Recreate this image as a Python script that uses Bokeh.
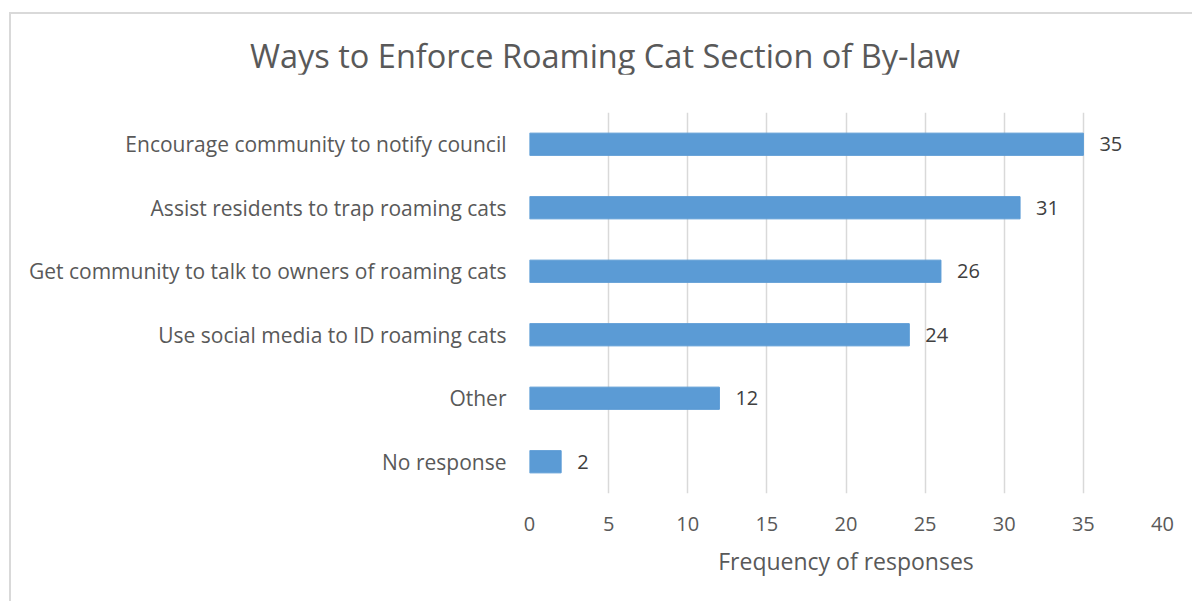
from bokeh.plotting import figure
from bokeh.models import ColumnDataSource, FixedTicker, Div
from bokeh.layouts import column
from bokeh.core.properties import value
from bokeh.embed import file_html
from bokeh.resources import INLINE

title_text = "Ways to Enforce Roaming Cat Section of By-law"
categories = [
    "Encourage community to notify council",
    "Assist residents to trap roaming cats",
    "Get community to talk to owners of roaming cats",
    "Use social media to ID roaming cats",
    "Other",
    "No response",
]
counts = [35, 31, 26, 24, 12, 2]
x_ticks = [0, 5, 10, 15, 20, 25, 30, 35, 40]

FONT = "Open Sans"
TXT = "#595959"

y_order = list(reversed(categories))
src = ColumnDataSource(dict(cat=categories, n=counts, lab=[str(c) for c in counts]))

title = Div(
    text=('<div style="font-family:\'Open Sans\';font-size:32.5px;color:%s;'
          'line-height:1;white-space:nowrap;padding-top:26px;padding-left:239px;">%s</div>'
          % (TXT, title_text)),
    width=1181, height=60, margin=(0, 0, 0, 0),
)

p = figure(
    width=1181, height=527, y_range=y_order, x_range=(0, 40),
    output_backend="svg", toolbar_location=None,
    min_border_left=518, min_border_right=30, min_border_top=38, min_border_bottom=108,
    margin=(0, 0, 0, 0),
)
p.outline_line_color = None
p.background_fill_color = "white"
p.border_fill_color = "white"

p.hbar(y="cat", right="n", left=0, height=0.35, source=src,
       fill_color="#5B9BD5", line_color="#5B9BD5")
p.text(x="n", y="cat", text="lab", source=src, x_offset=16,
       text_baseline="middle", text_align="left",
       text_font=value(FONT), text_font_size="20px", text_color="#404040")

p.xaxis.ticker = FixedTicker(ticks=x_ticks)
p.xaxis.axis_line_color = None
p.xaxis.major_tick_line_color = None
p.xaxis.minor_tick_line_color = None
p.xaxis.major_label_text_font = FONT
p.xaxis.major_label_text_font_size = "20px"
p.xaxis.major_label_text_color = TXT
p.xaxis.major_label_standoff = 17
p.xaxis.axis_label = "Frequency of responses"
p.xaxis.axis_label_text_font = FONT
p.xaxis.axis_label_text_font_size = "23px"
p.xaxis.axis_label_text_font_style = "normal"
p.xaxis.axis_label_text_color = TXT
p.xaxis.axis_label_standoff = 11

p.yaxis.axis_line_color = None
p.yaxis.major_tick_line_color = None
p.yaxis.minor_tick_line_color = None
p.yaxis.major_label_text_font = FONT
p.yaxis.major_label_text_font_size = "21px"
p.yaxis.major_label_text_color = TXT
p.yaxis.major_label_standoff = 17

p.xgrid.grid_line_color = "#D9D9D9"
p.xgrid.grid_line_width = 1.5
p.ygrid.grid_line_color = None

layout = column(title, p, spacing=0)
layout.styles = {"margin-left": "9px", "margin-top": "12px", "background": "white",
                 "border-left": "2px solid #D9D9D9", "border-top": "2px solid #D9D9D9"}

open("out.html", "w").write(file_html(layout, INLINE))
